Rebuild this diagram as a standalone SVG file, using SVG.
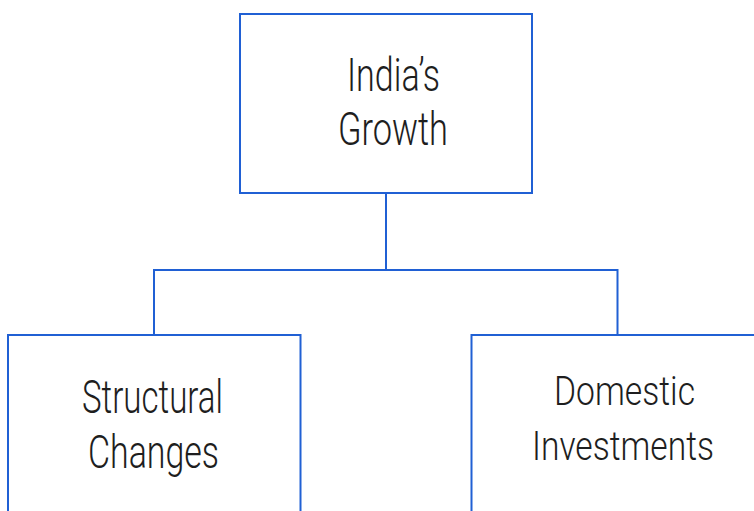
<svg xmlns="http://www.w3.org/2000/svg" width="754" height="511" viewBox="0 0 754 511">
  <style>
    .box { fill: #ffffff; stroke: #2060d4; stroke-width: 2; }
    .link { fill: none; stroke: #2060d4; stroke-width: 2; }
    .label { font-family: "Roboto", "Liberation Sans", sans-serif; font-weight: 300; fill: #1e1e1e; text-anchor: middle; }
    .big { font-size: 46px; }
    .mid { font-size: 40px; }
  </style>
  <rect width="754" height="511" fill="#ffffff"/>

  <!-- tree connectors -->
  <g id="connectors">
    <path class="link" d="M386,193 V270"/>
    <path class="link" d="M154,335 V270 H617.5 V335"/>
  </g>

  <!-- root -->
  <g id="node-growth">
    <rect class="box" x="240" y="14" width="292" height="179"/>
    <text class="label big" x="393.5" y="90.5" textLength="93" lengthAdjust="spacingAndGlyphs">India’s</text>
    <text class="label big" x="393" y="144.5" textLength="110" lengthAdjust="spacingAndGlyphs">Growth</text>
  </g>

  <!-- left child (bottom edge runs off the canvas) -->
  <g id="node-structural">
    <rect class="box" x="8" y="335" width="292.5" height="200"/>
    <text class="label big" x="152.5" y="412.5" textLength="141" lengthAdjust="spacingAndGlyphs">Structural</text>
    <text class="label big" x="153.5" y="467.5" textLength="131" lengthAdjust="spacingAndGlyphs">Changes</text>
  </g>

  <!-- right child (right and bottom edges run off the canvas) -->
  <g id="node-domestic">
    <rect class="box" x="471.5" y="335" width="300" height="200"/>
    <text class="label mid" x="624.5" y="405" textLength="141" lengthAdjust="spacingAndGlyphs">Domestic</text>
    <text class="label mid" x="623" y="459.5" textLength="182" lengthAdjust="spacingAndGlyphs">Investments</text>
  </g>
</svg>
